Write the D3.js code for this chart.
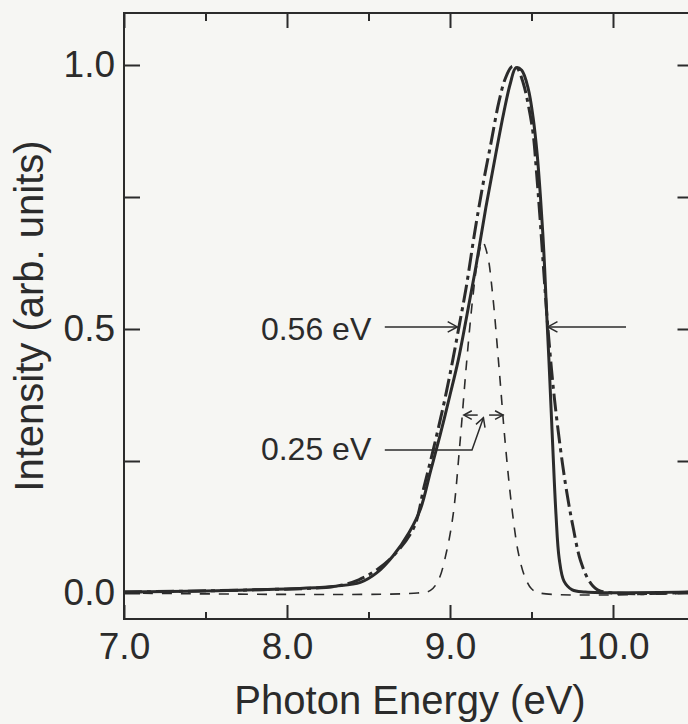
<!DOCTYPE html>
<html>
<head>
<meta charset="utf-8">
<script src="https://cdn.jsdelivr.net/npm/d3@7"></script>
<style>
  body { margin: 0; background: #f6f6f3; }
  svg text { font-family: "Liberation Sans", Arial, sans-serif; fill: #2b2b2b; }
</style>
</head>
<body>
<div id="root"></div>
<script>
// values
const solidE = [7.0, 7.5, 7.8, 8.1, 8.3, 8.45, 8.55, 8.65, 8.75, 8.82, 8.88, 8.94, 9.0, 9.05, 9.1, 9.16, 9.22, 9.28, 9.33, 9.37, 9.405, 9.44, 9.48, 9.51, 9.535, 9.555, 9.575, 9.59, 9.61, 9.63, 9.65, 9.67, 9.70, 9.75, 9.83, 10.5];
const solidI = [0.002, 0.004, 0.006, 0.009, 0.013, 0.02, 0.038, 0.07, 0.115, 0.16, 0.23, 0.3, 0.375, 0.44, 0.52, 0.62, 0.73, 0.83, 0.91, 0.965, 0.995, 0.99, 0.955, 0.9, 0.83, 0.75, 0.65, 0.55, 0.42, 0.28, 0.15, 0.065, 0.022, 0.006, 0.002, 0.002];

const dashDotE = [7.0, 7.8, 8.3, 8.44, 8.56, 8.675, 8.78, 8.84, 8.9, 8.96, 9.01, 9.055, 9.1, 9.15, 9.2, 9.25, 9.3, 9.34, 9.38, 9.41, 9.45, 9.48, 9.51, 9.53, 9.55, 9.575, 9.6, 9.64, 9.69, 9.725, 9.755, 9.8, 9.86, 9.92, 10.5];
const dashDotI = [0.002, 0.006, 0.013, 0.025, 0.046, 0.078, 0.125, 0.2, 0.275, 0.355, 0.43, 0.504, 0.58, 0.68, 0.77, 0.85, 0.93, 0.975, 0.997, 0.995, 0.965, 0.925, 0.87, 0.8, 0.72, 0.61, 0.504, 0.37, 0.245, 0.175, 0.125, 0.062, 0.02, 0.004, 0.002];

const gaussE = [7.0, 8.8, 8.88, 8.93, 8.98, 9.02, 9.06, 9.10, 9.14, 9.17, 9.20, 9.23, 9.26, 9.30, 9.34, 9.38, 9.42, 9.46, 9.50, 9.55, 10.5];
const gaussI = [0.0, 0.0, 0.005, 0.025, 0.08, 0.15, 0.28, 0.43, 0.56, 0.63, 0.665, 0.64, 0.57, 0.43, 0.28, 0.16, 0.075, 0.03, 0.008, 0.0, 0.0];

const xMajor = [7.0, 8.0, 9.0, 10.0];
const xMinor = [7.5, 8.5, 9.5];
const yMajor = [0.0, 0.5, 1.0];
const yMinor = [0.25, 0.75];

const width = 688, height = 724;
const ink = "#2b2b2b";

const svg = d3.select("#root")
  .append("svg")
  .attr("width", width)
  .attr("height", height);

svg.append("rect").attr("width", width).attr("height", height).attr("fill", "#f6f6f3");

const x = d3.scaleLinear().domain([7.0, 10.5]).range([124, 694.5]);
const y = d3.scaleLinear().domain([0, 1]).range([593, 65]);
const frameTop = 13, frameBottom = 619;

// frame
svg.append("rect")
  .attr("x", x(7.0)).attr("y", frameTop)
  .attr("width", x(10.5) - x(7.0)).attr("height", frameBottom - frameTop)
  .attr("fill", "none").attr("stroke", ink).attr("stroke-width", 2);

function styleAxis(g) {
  g.select(".domain").remove();
  g.selectAll("line").attr("stroke", ink).attr("stroke-width", 2);
  g.selectAll("text").style("font-size", "37px").attr("fill", ink);
}

svg.append("g")
  .attr("transform", `translate(0,${frameBottom})`)
  .call(d3.axisBottom(x).tickValues(xMajor).tickSize(-14).tickPadding(14).tickFormat(d3.format(".1f")))
  .call(styleAxis);
svg.append("g")
  .attr("transform", `translate(0,${frameBottom})`)
  .call(d3.axisBottom(x).tickValues(xMinor).tickSize(-7).tickFormat(""))
  .call(styleAxis);
svg.append("g")
  .attr("transform", `translate(0,${frameTop})`)
  .call(d3.axisTop(x).tickValues(xMajor).tickSize(-15).tickFormat(""))
  .call(styleAxis);
svg.append("g")
  .attr("transform", `translate(0,${frameTop})`)
  .call(d3.axisTop(x).tickValues(xMinor).tickSize(-8).tickFormat(""))
  .call(styleAxis);

svg.append("g")
  .attr("transform", `translate(${x(7.0)},0)`)
  .call(d3.axisLeft(y).tickValues(yMajor).tickSize(-16).tickPadding(9).tickFormat(d3.format(".1f")))
  .call(styleAxis);
svg.append("g")
  .attr("transform", `translate(${x(7.0)},0)`)
  .call(d3.axisLeft(y).tickValues(yMinor).tickSize(-16).tickFormat(""))
  .call(styleAxis);
svg.append("g")
  .attr("transform", `translate(${x(10.5)},0)`)
  .call(d3.axisRight(y).tickValues(yMajor.concat(yMinor)).tickSize(-17).tickFormat(""))
  .call(styleAxis);

// axis titles
svg.append("text")
  .attr("x", 410).attr("y", 714)
  .attr("text-anchor", "middle")
  .style("font-size", "40px")
  .text("Photon Energy (eV)");

svg.append("text")
  .attr("transform", "translate(43,316) rotate(-90)")
  .attr("text-anchor", "middle")
  .style("font-size", "40px")
  .text("Intensity (arb. units)");

// curves
const line = d3.line()
  .x(d => x(d[0]))
  .y(d => y(d[1]))
  .curve(d3.curveCatmullRom.alpha(0.5));

const plot = svg.append("g");

plot.append("path")
  .datum(d3.zip(gaussE, gaussI))
  .attr("d", line)
  .attr("fill", "none").attr("stroke", ink)
  .attr("stroke-width", 1.6).attr("stroke-dasharray", "10,9");

plot.append("path")
  .datum(d3.zip(dashDotE, dashDotI))
  .attr("d", line)
  .attr("fill", "none").attr("stroke", ink)
  .attr("stroke-width", 3).attr("stroke-dasharray", "18,5,4,5");

plot.append("path")
  .datum(d3.zip(solidE, solidI))
  .attr("d", line)
  .attr("fill", "none").attr("stroke", ink)
  .attr("stroke-width", 3);

// annotations
function arrowHead(g, x1, y1, x2, y2, size) {
  const a = Math.atan2(y2 - y1, x2 - x1);
  const p = (s) => [x2 - size * Math.cos(a + s), y2 - size * Math.sin(a + s)];
  const l = p(0.5), r = p(-0.5);
  g.append("path")
    .attr("d", `M${l[0]},${l[1]}L${x2},${y2}L${r[0]},${r[1]}`)
    .attr("fill", "none").attr("stroke", ink).attr("stroke-width", 1.5);
}

function arrow(g, pts, size) {
  g.append("path")
    .attr("d", d3.line()(pts))
    .attr("fill", "none").attr("stroke", ink).attr("stroke-width", 1.5);
  const n = pts.length;
  arrowHead(g, pts[n - 2][0], pts[n - 2][1], pts[n - 1][0], pts[n - 1][1], size);
}

const ann = svg.append("g");

ann.append("text")
  .attr("x", x(7.84)).attr("y", y(0.479))
  .style("font-size", "32px")
  .text("0.56 eV");
arrow(ann, [[x(8.6), y(0.504)], [x(9.045), y(0.504)]], 11);
arrow(ann, [[x(10.08), y(0.504)], [x(9.6), y(0.504)]], 11);

ann.append("text")
  .attr("x", x(7.84)).attr("y", y(0.252))
  .style("font-size", "32px")
  .text("0.25 eV");
arrow(ann, [[x(8.6), y(0.271)], [x(9.135), y(0.271)], [x(9.205), y(0.332)]], 10);
arrow(ann, [[x(9.17), y(0.337)], [x(9.085), y(0.337)]], 9);
arrow(ann, [[x(9.24), y(0.337)], [x(9.325), y(0.337)]], 9);
</script>
</body>
</html>
